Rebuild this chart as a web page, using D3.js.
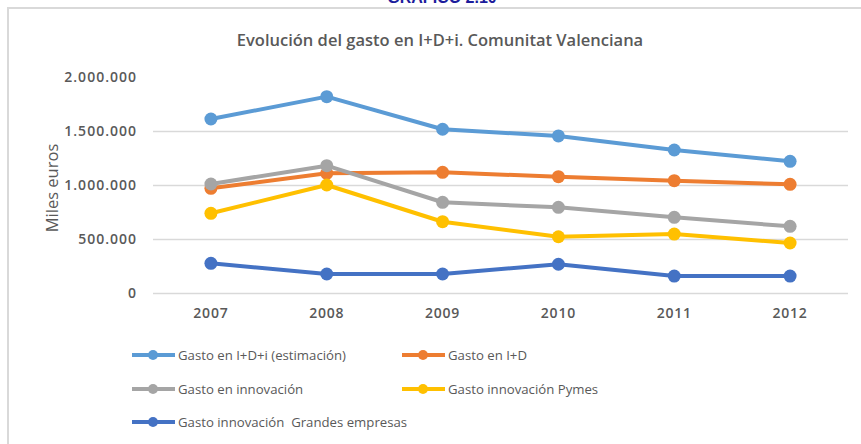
<!DOCTYPE html>
<html>
<head>
<meta charset="utf-8">
<script src="https://cdn.jsdelivr.net/npm/d3@7"></script>
<style>
  body { margin: 0; background: #fff; }
  svg { display: block; font-family: "Open Sans", sans-serif; }
</style>
</head>
<body>
<div id="chart"></div>
<script>
// data (miles de euros)
const years = ["2007", "2008", "2009", "2010", "2011", "2012"];
const seriesNames = [
  "Gasto en I+D+i (estimación)",
  "Gasto en I+D",
  "Gasto en innovación",
  "Gasto innovación Pymes",
  "Gasto innovación  Grandes empresas"
];
const gastoIDi = [1611000, 1818000, 1516000, 1454000, 1324000, 1219000];
const gastoID = [969000, 1108000, 1117000, 1077000, 1040000, 1006000];
const gastoInnov = [1009000, 1179000, 840000, 793000, 701000, 617000];
const gastoPymes = [738000, 1000000, 660000, 521000, 546000, 463000];
const gastoGrandes = [275000, 176000, 176000, 266000, 157000, 157000];
const yTicks = [0, 500000, 1000000, 1500000, 2000000];

const seriesValues = [gastoIDi, gastoID, gastoInnov, gastoPymes, gastoGrandes];
const colors = ["#5B9BD5", "#ED7D31", "#A5A5A5", "#FFC000", "#4472C4"];

const Wd = 861, Ht = 444;
const P = { left: 153, right: 848, top: 77, bottom: 293 };

const es = d3.formatLocale({ decimal: ",", thousands: ".", grouping: [3], currency: ["", " €"] });
const fmt = es.format(",");

const svg = d3.select("#chart").append("svg")
  .attr("width", Wd).attr("height", Ht);

// heading above the frame (cut off in the source)
svg.append("text")
  .attr("x", 442).attr("y", 2.5)
  .attr("text-anchor", "middle")
  .attr("font-family", "Liberation Sans, Arial, sans-serif")
  .attr("font-weight", "bold").attr("font-size", 16)
  .attr("fill", "#1c1c9c")
  .text("GRÁFICO 2.10");

// chart frame
svg.append("rect")
  .attr("x", 8).attr("y", 8).attr("width", Wd + 20).attr("height", Ht + 20)
  .attr("fill", "#fff").attr("stroke", "#d9d9d9").attr("stroke-width", 2);

const x = d3.scalePoint().domain(years).range([P.left, P.right]).padding(0.5);
const y = d3.scaleLinear().domain([0, 2000000]).range([P.bottom, P.top]);

// gridlines (top one not drawn in the source)
svg.append("g").selectAll("line")
  .data(yTicks.filter(d => d < 2000000))
  .join("line")
  .attr("x1", P.left).attr("x2", P.right)
  .attr("y1", d => Math.round(y(d)) + 0.5).attr("y2", d => Math.round(y(d)) + 0.5)
  .attr("stroke", "#d9d9d9").attr("stroke-width", 1.5);

// y labels
svg.append("g").selectAll("text")
  .data(yTicks)
  .join("text")
  .attr("x", 137).attr("y", d => y(d))
  .attr("dy", "0.35em")
  .attr("text-anchor", "end")
  .attr("font-size", 14).attr("font-weight", 600)
  .attr("letter-spacing", 1)
  .attr("fill", "#595959")
  .text(d => fmt(d));

// x labels
svg.append("g").selectAll("text")
  .data(years)
  .join("text")
  .attr("x", d => x(d)).attr("y", 318)
  .attr("text-anchor", "middle")
  .attr("font-size", 14).attr("font-weight", 600)
  .attr("letter-spacing", 0.8)
  .attr("fill", "#595959")
  .text(d => d);

// titles
svg.append("text")
  .attr("x", 440).attr("y", 46)
  .attr("text-anchor", "middle")
  .attr("font-size", 16.5).attr("font-weight", 600)
  .attr("fill", "#595959")
  .text("Evolución del gasto en I+D+i. Comunitat Valenciana");

svg.append("text")
  .attr("transform", "translate(58,188) rotate(-90)")
  .attr("text-anchor", "middle")
  .attr("font-size", 16.5)
  .attr("fill", "#595959")
  .text("Miles euros");

// lines + markers
const line = d3.line().x((d, i) => x(years[i])).y(d => y(d));
seriesValues.forEach((vals, k) => {
  const g = svg.append("g");
  g.append("path")
    .attr("d", line(vals))
    .attr("fill", "none")
    .attr("stroke", colors[k]).attr("stroke-width", 4)
    .attr("stroke-linejoin", "round");
  g.selectAll("circle")
    .data(vals)
    .join("circle")
    .attr("cx", (d, i) => x(years[i])).attr("cy", d => y(d))
    .attr("r", 6.5)
    .attr("fill", colors[k]);
});

// legend
const legPos = [[132, 355], [402, 355], [132, 389], [402, 389], [132, 422]];
const leg = svg.append("g").selectAll("g")
  .data(seriesNames)
  .join("g")
  .attr("transform", (d, i) => `translate(${legPos[i][0]},${legPos[i][1]})`);
leg.append("line")
  .attr("x1", 0).attr("x2", 43)
  .attr("stroke", (d, i) => colors[i]).attr("stroke-width", 4);
leg.append("circle")
  .attr("cx", 21).attr("r", 5)
  .attr("fill", (d, i) => colors[i]);
leg.append("text")
  .attr("x", 46).attr("dy", "0.35em")
  .attr("font-size", 13.2)
  .attr("fill", "#595959")
  .style("white-space", "pre")
  .text(d => d);
</script>
</body>
</html>
